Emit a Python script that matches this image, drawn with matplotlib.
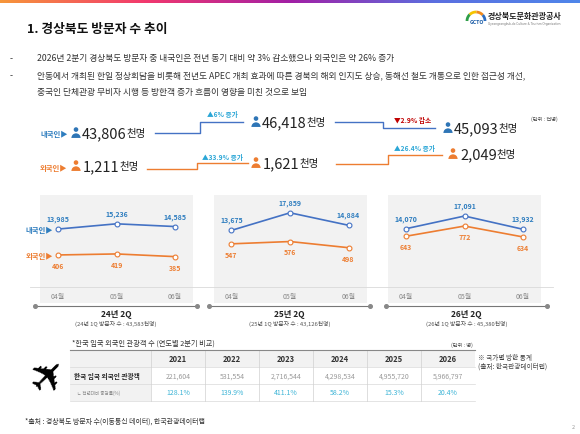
import numpy as np
import matplotlib.pyplot as plt
from matplotlib.colors import LinearSegmentedColormap
from matplotlib.patches import Circle, Wedge, Rectangle

plt.rcParams['font.family'] = ['Noto Sans CJK KR', 'DejaVu Sans']

# --- data ---
months = ['04월', '05월', '06월']
quarters = ['24년 2Q', '25년 2Q', '26년 2Q']
q1_visitors = ['43,583', '43,126', '45,380']
domestic = [[13985, 15236, 14585], [13675, 17859, 14884], [14070, 17091, 13932]]
foreign = [[406, 419, 385], [547, 576, 498], [643, 772, 634]]
dom_total = [43806, 46418, 45093]
for_total = [1211, 1621, 2049]
dom_change = ['▲6% 증가', '▼2.9% 감소']
for_change = ['▲33.9% 증가', '▲26.4% 증가']
years = ['2021', '2022', '2023', '2024', '2025', '2026']
arrivals = [221604, 531554, 2716544, 4298534, 4955720, 5966797]
growth = [128.1, 139.9, 411.1, 58.2, 15.3, 20.4]

bullets = [
    '2026년 2분기 경상북도 방문자 중 내국인은 전년 동기 대비 약 3% 감소했으나 외국인은 약 26% 증가',
    '안동에서 개최된 한일 정상회담을 비롯해 전년도 APEC 개최 효과에 따른 경북의 해외 인지도 상승, 동해선 철도 개통으로 인한 접근성 개선,',
    '중국인 단체관광 무비자 시행 등 방한객 증가 흐름이 영향을 미친 것으로 보임',
]

BLUE = '#4472c4'
BLUE_T = '#2e7dbf'
ORANGE = '#ed7d31'
UP = '#2aa6d6'
DOWN = '#c00000'

fig = plt.figure(figsize=(5.8, 4.35), dpi=100)
fig.patch.set_facecolor('white')

# --- monthly line panels ---
panel_x = [40, 213.5, 388]
for i in range(3):
    ax = fig.add_axes([panel_x[i] / 580, 1 - 304 / 435, 153 / 580, 108 / 435])
    ax.set_facecolor('#f2f2f2')
    ax.plot(range(3), domestic[i], color=BLUE, lw=1.2, marker='o', ms=3.5,
            mfc='white', mec=BLUE, mew=0.8)
    for j, v in enumerate(domestic[i]):
        ax.annotate(f'{v:,}', (j, v), xytext=(0, 7.5), textcoords='offset points',
                    ha='center', va='center', fontsize=5, fontweight='bold', color=BLUE_T)
    ax.set_xlim(-0.307, 2.307)
    ax.set_ylim(-3619, 22095)
    ax.set_xticks(range(3), months)
    ax.tick_params(axis='x', length=0, pad=-8, labelsize=5, labelcolor='#888')
    ax.set_yticks([])
    for s in ax.spines.values():
        s.set_visible(False)

    ax2 = ax.twinx()
    ax2.plot(range(3), foreign[i], color=ORANGE, lw=1.2, marker='o', ms=3.5,
             mfc='white', mec=ORANGE, mew=0.8)
    for j, v in enumerate(foreign[i]):
        ax2.annotate(f'{v:,}', (j, v), xytext=(0, -7.5), textcoords='offset points',
                     ha='center', va='center', fontsize=5, fontweight='bold', color=ORANGE)
    ax2.set_ylim(-202, 1165)
    ax2.set_yticks([])
    for s in ax2.spines.values():
        s.set_visible(False)

# --- overlay in pixel coordinates ---
ov = fig.add_axes([0, 0, 1, 1], zorder=10)
ov.patch.set_alpha(0)

grad = LinearSegmentedColormap.from_list(
    'bar', ['#f7963a', '#f2386e', '#a21fa5', '#5b6fe0', '#4f86ea'])
ov.imshow(np.linspace(0, 1, 256)[None, :], extent=(0, 580, 4, 0), aspect='auto', cmap=grad)
ov.set_xlim(0, 580)
ov.set_ylim(435, 0)
ov.axis('off')

# title + logo
ov.text(27, 30, '1. 경상북도 방문자 수 추이', fontsize=9.2, fontweight='bold', color='#111',
        va='center', ha='left')
t = np.linspace(np.pi, 0, 40)
arc_x = 476 + 9 * np.cos(t)
arc_y = 22 - 9 * np.sin(t)
for k, c in enumerate(['#2e9e48', '#f5c400', '#f08a1c', '#2a6cc0']):
    sl = slice(k * 10, k * 10 + 11)
    ov.plot(arc_x[sl], arc_y[sl], color=c, lw=2, solid_capstyle='butt')
ov.text(477, 22.5, 'GCTO', fontsize=3.8, fontweight='bold', color='#1f5fa8', ha='center', va='center')
ov.text(488, 17, '경상북도문화관광공사', fontsize=5.8, fontweight='bold', color='#222', va='center')
ov.text(488, 23.5, 'Gyeongsangbuk-do Culture & Tourism Organization', fontsize=2.1,
        color='#777', va='center', family='DejaVu Sans')

# bullets
for k, (y, line) in enumerate(zip([59, 76, 93], bullets)):
    if k < 2:
        ov.text(10, y, '-', fontsize=6.3, color='#333', va='center')
    ov.text(37, y, line, fontsize=6.3, color='#333', va='center')


def person(x, y, color, s=1.15):
    ov.add_patch(Circle((x, y - 3.0 * s), 2.0 * s, color=color, lw=0))
    ov.add_patch(Wedge((x, y + 4.3 * s), 4.0 * s, 180, 360, color=color, lw=0))


def big_number(x, y, v):
    tx = ov.text(x, y, f'{v:,}', fontsize=10.5, color='#222', va='center', ha='left')
    ov.annotate('천명', xy=(1, 0.5), xycoords=tx, fontsize=7.5, color='#222',
                va='center', ha='left')


# summary rows
ov.text(40, 134, '내국인▶', fontsize=5.3, fontweight='bold', color=BLUE_T, va='center')
ov.text(40, 168, '외국인▶', fontsize=5.3, fontweight='bold', color=ORANGE, va='center')

dom_pos = [(76, 134), (256, 123), (448, 129)]
for_pos = [(76, 167), (256, 164), (453, 155)]
for (x, y), v in zip(dom_pos, dom_total):
    person(x, y, '#2e75b6')
    big_number(x + 6, y, v)
for (x, y), v in zip(for_pos, for_total):
    person(x, y, ORANGE)
    big_number(x + 7, y, v)

ov.plot([155, 200, 200, 243], [134, 134, 123, 123], color=BLUE, lw=1)
ov.plot([335, 383, 383, 435], [123, 123, 129, 129], color=BLUE, lw=1)
ov.plot([147, 197, 197, 248], [170, 170, 164, 164], color=ORANGE, lw=1)
ov.plot([336, 388, 388, 442], [165, 165, 156, 156], color=ORANGE, lw=1)

for (x, y), lab in zip([(222, 115), (413, 120)], dom_change):
    ov.text(x, y, lab, fontsize=4.8, fontweight='bold', ha='center', va='center',
            color=UP if lab.startswith('▲') else DOWN)
for (x, y), lab in zip([(222, 158), (414, 149)], for_change):
    ov.text(x, y, lab, fontsize=4.8, fontweight='bold', ha='center', va='center',
            color=UP if lab.startswith('▲') else DOWN)
ov.text(544, 119, '(단위 : 천명)', fontsize=3.8, color='#444', ha='center', va='center')

# panel side labels, baseline and timelines
ov.text(53, 230, '내국인▶', fontsize=5.3, fontweight='bold', color=BLUE_T, ha='right', va='center')
ov.text(53, 256, '외국인▶', fontsize=5.3, fontweight='bold', color=ORANGE, ha='right', va='center')
ov.plot([30, 553], [288, 288], color='#d9d9d9', lw=0.6)

spans = [(35, 197), (209, 370), (386, 547)]
for (x0, x1), q, n in zip(spans, quarters, q1_visitors):
    ov.plot([x0, x1], [307, 307], color='#777', lw=0.8)
    ov.plot([x0, x1], [307, 307], 'o', ms=2.6, color='#888')
    xc = (x0 + x1) / 2
    ov.text(xc, 315, q, fontsize=6, fontweight='bold', color='#222', ha='center', va='center')
    ov.text(xc, 324, f'({q.split()[0]} 1Q 방문자 수 : {n}천명)', fontsize=4.2, color='#555',
            ha='center', va='center')

# table
rows = [351, 368, 385, 402]
cols = [70, 151] + [151 + 54 * (k + 1) for k in range(len(years))]
ov.add_patch(Rectangle((cols[0], rows[0]), cols[-1] - cols[0], rows[1] - rows[0],
                       color='#f2f2f2', lw=0))
ov.add_patch(Rectangle((cols[0], rows[1]), cols[1] - cols[0], rows[3] - rows[1],
                       color='#f2f2f2', lw=0))
for y in rows[1:]:
    ov.plot([cols[0], cols[-1]], [y, y], color='#d9d9d9', lw=0.5)
for x in cols[1:-1]:
    ov.plot([x, x], [rows[0], rows[3]], color='#d0d0d0', lw=0.5)
ov.plot([cols[0], cols[-1]], [rows[0], rows[0]], color='#888', lw=0.8)

for k, (yr, a, g) in enumerate(zip(years, arrivals, growth)):
    xc = (cols[k + 1] + cols[k + 2]) / 2
    ov.text(xc, 359.5, yr, fontsize=5.5, fontweight='bold', color='#333', ha='center', va='center')
    ov.text(xc, 376.5, f'{a:,}', fontsize=5, color='#9a9a9a', ha='center', va='center')
    ov.text(xc, 393.5, f'{g:.1f}%', fontsize=5, color='#3cb4d6', ha='center', va='center')
ov.text(74, 376.5, '한국 입국 외국인 관광객', fontsize=4.8, fontweight='bold', color='#222', va='center')
ov.text(77, 393.5, 'ㄴ 전년대비 증감률(%)', fontsize=3.3, color='#888', va='center')

ov.text(72, 344, '*한국 입국 외국인 관광객 수 (연도별 2분기 비교)', fontsize=5.2, color='#333', va='center')
ov.text(473, 345, '(단위 : 명)', fontsize=3.8, color='#444', ha='right', va='center')
ov.text(478, 358, '※ 국가별 방한 통계', fontsize=4.8, color='#444', va='center')
ov.text(478, 367, '(출처: 한국관광데이터랩)', fontsize=4.8, color='#444', va='center')

ov.text(49, 377, '✈', fontsize=32, rotation=45, ha='center', va='center',
        family='DejaVu Sans', color='black')

ov.text(25, 422, '*출처 : 경상북도 방문자 수(이동통신 데이터), 한국관광데이터랩', fontsize=5,
        color='#333', va='center')
ov.text(573, 428, '2', fontsize=4, color='#999', ha='center', va='center')

fig.savefig('out.png', dpi=100)
